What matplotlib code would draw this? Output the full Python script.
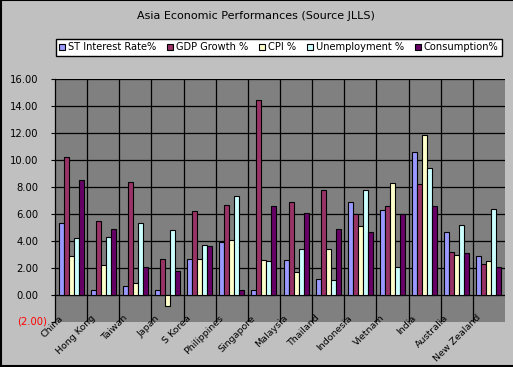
import numpy as np
import matplotlib
matplotlib.use('Agg')
import matplotlib.pyplot as plt
import matplotlib.transforms as mtransforms
from matplotlib.lines import Line2D

countries = ['China', 'Hong Kong', 'Taiwan', 'Japan', 'S Korea', 'Philippines',
             'Singapore', 'Malaysia', 'Thailand', 'Indonesia', 'Vietnam', 'India',
             'Australia', 'New Zealand']
series = ['ST Interest Rate%', 'GDP Growth %', 'CPI %', 'Unemployment %', 'Consumption%']

st_rate = [5.35, 0.32, 0.67, 0.32, 2.67, 3.94, 0.37, 2.60, 1.19, 6.91, 6.32, 10.63, 4.68, 2.90]
gdp     = [10.23, 5.47, 8.37, 2.65, 6.22, 6.69, 14.49, 6.91, 7.80, 5.99, 6.61, 8.25, 3.20, 2.30]
cpi     = [2.87, 2.23, 0.89, -0.82, 2.67, 4.09, 2.60, 1.71, 3.42, 5.13, 8.32, 11.89, 2.97, 2.53]
unemp   = [4.24, 4.31, 5.35, 4.80, 3.72, 7.36, 2.53, 3.42, 1.11, 7.80, 2.08, 9.44, 5.20, 6.39]
consump = [8.54, 4.88, 2.06, 1.77, 3.62, 0.37, 6.61, 6.09, 4.90, 4.68, 5.99, 6.61, 3.12, 2.08]

values = [st_rate, gdp, cpi, unemp, consump]
colors = ['#9999FF', '#993366', '#FFFFCC', '#CCFFFF', '#660066']

fig = plt.figure(figsize=(5.13, 3.67), dpi=100, facecolor='#C0C0C0')
ax = fig.add_axes([55/513, 1-321.7/367, 450/513, (321.7-79.3)/367])
ax.set_facecolor('#808080')

n = len(countries)
bw = 0.1556
start = (1 - 5*bw) / 2
x = np.arange(n)
for k, (name, vals, c) in enumerate(zip(series, values, colors)):
    ax.bar(x + start + k*bw + bw/2, vals, width=bw, color=c, edgecolor='black',
           linewidth=0.8, label=name, zorder=3)

ax.set_xlim(0, n)
ax.set_ylim(-2, 16)

# gridlines
for yv in range(0, 17, 2):
    ax.axhline(yv, color='black', lw=0.9, zorder=1)
for i in range(1, n):
    ax.axvline(i, color='black', lw=0.9, zorder=1)

for s in ['top', 'right', 'bottom']:
    ax.spines[s].set_visible(False)
ax.spines['left'].set_color('black')
ax.spines['left'].set_linewidth(0.9)

yt = np.arange(-2, 17, 2)
ax.set_yticks(yt)
ax.set_yticklabels(['' if v < 0 else '%.2f' % v for v in yt],
                   fontsize=7.2, fontfamily='DejaVu Sans')
ax.tick_params(axis='y', length=3, width=0.8, pad=9, color='black')
ax.set_xticks([])

# negative label, Excel style in red, slightly offset
off = mtransforms.blended_transform_factory(ax.transAxes, ax.transData) + \
    mtransforms.ScaledTranslation(-8.5/100, 0, fig.dpi_scale_trans)
ax.text(0, yt[0], '(%.2f)' % abs(yt[0]), transform=off, ha='right', va='center',
        fontsize=7.2, color='red', clip_on=False)

for i, name in enumerate(countries):
    ax.text(i + 0.5 - 0.3, -1.62, name, rotation=45, rotation_mode='anchor',
            ha='right', va='center', fontsize=6.8, clip_on=False)

fig.text(256/513, 1-16/367, 'Asia Economic Performances (Source JLLS)',
         ha='center', va='center', fontsize=8.0)

leg = fig.legend(loc='center', bbox_to_anchor=(279/513, 1-47.5/367), ncol=5,
                 fontsize=7.1, frameon=True, fancybox=False, edgecolor='black',
                 facecolor='white', framealpha=1, handlelength=0.6, handleheight=0.6,
                 handletextpad=0.3, columnspacing=1.1, borderpad=0.35)
leg.get_frame().set_linewidth(1.0)

# chart border
for xs, ys in [([0.001, 0.001], [0, 1]), ([0, 1], [0.999, 0.999]), ([0, 1], [0.002, 0.002])]:
    fig.add_artist(Line2D(xs, ys, transform=fig.transFigure, color='black', lw=1.5))

fig.savefig('out.png', dpi=100, facecolor=fig.get_facecolor())
